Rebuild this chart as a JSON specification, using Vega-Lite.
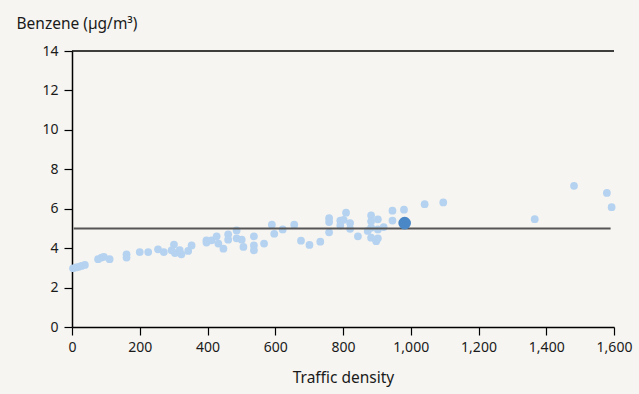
{
"$schema": "https://vega.github.io/schema/vega-lite/v6.json",
"width": 542, "height": 276,
"autosize": {"type": "none"},
"padding": {"left": 72, "top": 51, "right": 25, "bottom": 67},
"background": "#f6f5f1",
"config": {
"view": {"stroke": null, "fill": null},
"font": "Noto Sans",
"axis": {"tickSize": 8, "domainColor": "#000000", "tickColor": "#000000", "domainWidth": 1.5, "tickWidth": 1.2, "labelFontSize": 14, "labelColor": "#1a1a1a", "labelFlush": false, "labelOverlap": false, "labelBound": false, "grid": false, "titleFontSize": 15.5, "titleFontWeight": "normal", "titleColor": "#1a1a1a"},
"axisX": {"labelPadding": 5, "titlePadding": 16},
"axisY": {"labelPadding": 6, "titleAngle": 0, "titleAlign": "left", "titleBaseline": "alphabetic", "titleX": -56, "titleY": -23}
},
"datasets": {
"pts": [
{"traffic":3,"benzene":2.98},{"traffic":12,"benzene":3.02},{"traffic":20,"benzene":3.05},{"traffic":28,"benzene":3.1},{"traffic":38,"benzene":3.15},
{"traffic":77,"benzene":3.44},{"traffic":87,"benzene":3.52},{"traffic":94,"benzene":3.56},{"traffic":111,"benzene":3.44},
{"traffic":161,"benzene":3.69},{"traffic":161,"benzene":3.52},
{"traffic":200,"benzene":3.8},{"traffic":225,"benzene":3.8},{"traffic":254,"benzene":3.94},{"traffic":271,"benzene":3.8},
{"traffic":301,"benzene":4.18},{"traffic":294,"benzene":3.89},{"traffic":304,"benzene":3.75},{"traffic":323,"benzene":3.69},{"traffic":318,"benzene":3.9},{"traffic":343,"benzene":3.86},{"traffic":353,"benzene":4.14},
{"traffic":397,"benzene":4.4},{"traffic":397,"benzene":4.28},{"traffic":412,"benzene":4.4},{"traffic":427,"benzene":4.6},{"traffic":432,"benzene":4.23},{"traffic":447,"benzene":3.97},{"traffic":461,"benzene":4.7},{"traffic":461,"benzene":4.43},{"traffic":486,"benzene":4.9},{"traffic":486,"benzene":4.5},{"traffic":501,"benzene":4.43},{"traffic":506,"benzene":4.06},{"traffic":537,"benzene":4.6},{"traffic":537,"benzene":4.14},{"traffic":537,"benzene":3.89},
{"traffic":567,"benzene":4.23},{"traffic":590,"benzene":5.19},{"traffic":597,"benzene":4.73},{"traffic":622,"benzene":4.95},{"traffic":656,"benzene":5.19},{"traffic":676,"benzene":4.38},{"traffic":701,"benzene":4.16},{"traffic":733,"benzene":4.33},
{"traffic":759,"benzene":5.52},{"traffic":759,"benzene":5.32},{"traffic":759,"benzene":4.8},{"traffic":792,"benzene":5.4},{"traffic":792,"benzene":5.15},{"traffic":802,"benzene":5.44},{"traffic":809,"benzene":5.8},{"traffic":821,"benzene":5.27},{"traffic":821,"benzene":4.98},{"traffic":844,"benzene":4.6},
{"traffic":873,"benzene":4.87},{"traffic":883,"benzene":5.66},{"traffic":883,"benzene":5.36},{"traffic":883,"benzene":5.04},{"traffic":883,"benzene":4.53},{"traffic":898,"benzene":4.35},{"traffic":903,"benzene":5.46},{"traffic":903,"benzene":4.95},{"traffic":903,"benzene":4.5},{"traffic":920,"benzene":5.07},
{"traffic":946,"benzene":5.9},{"traffic":946,"benzene":5.4},{"traffic":980,"benzene":5.95},{"traffic":1041,"benzene":6.23},{"traffic":1096,"benzene":6.32},{"traffic":1366,"benzene":5.47},{"traffic":1482,"benzene":7.16},{"traffic":1579,"benzene":6.8},{"traffic":1593,"benzene":6.08}
],
"hl": [{"traffic":982,"benzene":5.27}],
"lines": [{"benzene":14,"kind":"top","traffic":0,"x1":1600},{"benzene":5,"kind":"limit","traffic":5,"x1":1590}]
},
"encoding": {
"x": {"field": "traffic", "type": "quantitative", "scale": {"domain": [0, 1600], "nice": false}, "axis": {"values": [0,200,400,600,800,1000,1200,1400,1600], "format": ",d", "title": "Traffic density"}},
"y": {"field": "benzene", "type": "quantitative", "scale": {"domain": [0, 14], "nice": false}, "axis": {"values": [0,2,4,6,8,10,12,14], "title": "Benzene (µg/m³)"}}
},
"layer": [
{
"data": {"name": "pts"},
"mark": {"type": "circle", "color": "#b5d2f0", "opacity": 1, "size": 60}
},
{
"data": {"name": "lines"},
"mark": {"type": "rule"},
"encoding": {
"x2": {"field": "x1"},
"color": {"field": "kind", "type": "nominal", "scale": {"domain": ["top", "limit"], "range": ["#000000", "#555555"]}, "legend": null},
"strokeWidth": {"field": "kind", "type": "nominal", "scale": {"domain": ["top", "limit"], "range": [1.5, 2]}, "legend": null}
}
},
{
"data": {"name": "hl"},
"mark": {"type": "circle", "color": "#4a87c6", "opacity": 1, "size": 160}
}
]
}
